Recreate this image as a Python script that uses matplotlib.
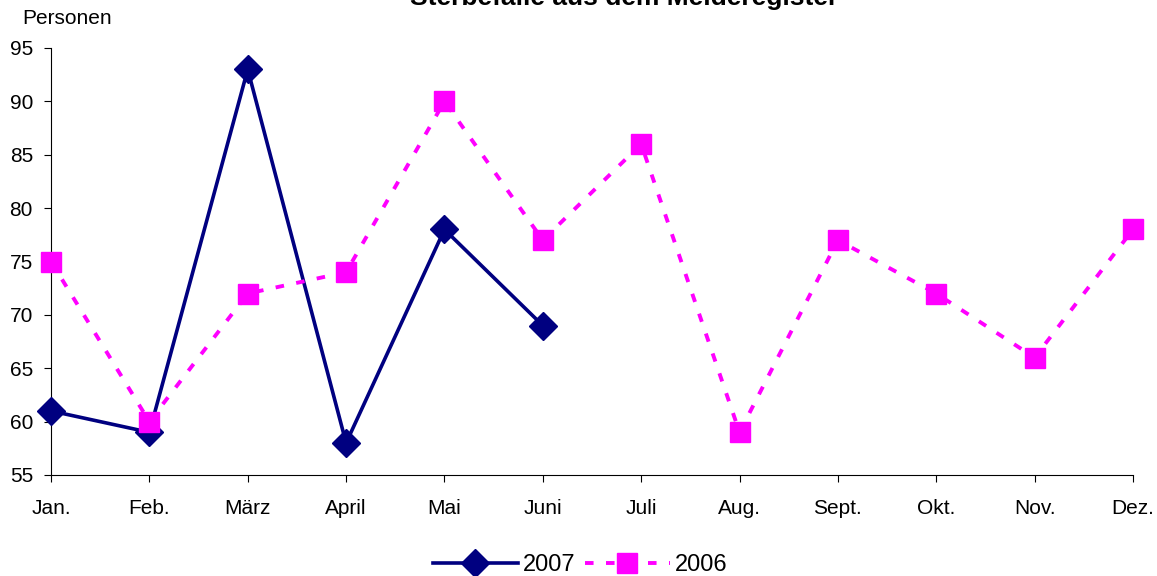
import matplotlib
matplotlib.use("Agg")
import matplotlib.pyplot as plt

months = ["Jan.", "Feb.", "März", "April", "Mai", "Juni", "Juli", "Aug.", "Sept.", "Okt.", "Nov.", "Dez."]
values_2007 = [61, 59, 93, 58, 78, 69]
values_2006 = [75, 60, 72, 74, 90, 77, 86, 59, 77, 72, 66, 78]
yticks = [55, 60, 65, 70, 75, 80, 85, 90, 95]

plt.rcParams['font.family'] = ['Liberation Sans', 'DejaVu Sans']

fig = plt.figure(figsize=(11.57, 5.76), dpi=100)
ax = fig.add_axes([51/1157, 1 - 475/576, (1133-51)/1157, (475-48)/576])

x07 = list(range(len(values_2007)))
x06 = list(range(len(values_2006)))
ax.plot(x07, values_2007, color='#000080', lw=2.6, marker='D', markersize=14,
        markerfacecolor='#000080', markeredgecolor='#000080', label='2007', zorder=3, clip_on=False)
ax.plot(x06, values_2006, color='#FF00FF', lw=2.8, ls=(0, (2.2, 3.2)), marker='s', markersize=15,
        markerfacecolor='#FF00FF', markeredgecolor='#FF00FF', label='2006', zorder=4, clip_on=False)

ax.set_xlim(0, 11)
ax.set_ylim(55, 95)
ax.set_yticks(yticks)
ax.set_xticks(range(len(months)))
ax.set_xticklabels(months)
for s in ['top', 'right']:
    ax.spines[s].set_visible(False)
for s in ['left', 'bottom']:
    ax.spines[s].set_color('#000000')
    ax.spines[s].set_linewidth(0.8)
ax.tick_params(axis='both', direction='out', length=5, width=0.8, labelsize=15)
ax.tick_params(axis='x', pad=12)
ax.tick_params(axis='y', pad=8)

fig.text(624/1157, 1 - 5/576, "Sterbefälle aus dem Melderegister", ha='center', va='baseline',
         fontsize=19, fontweight='bold')
fig.text(22/1157, 1 - 19/576, "Personen", ha='left', va='center', fontsize=15)

leg = fig.legend(loc='center', bbox_to_anchor=(580/1157, 1 - 565/576), ncol=2, frameon=False,
                 fontsize=17, handlelength=3.6, columnspacing=0.4, handletextpad=0.2)

fig.savefig("out.png", dpi=100)
